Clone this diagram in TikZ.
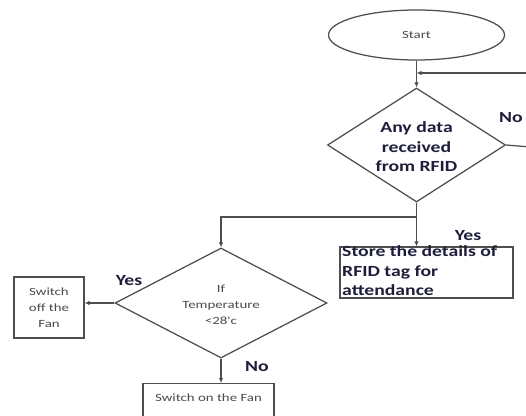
\documentclass[tikz,border=0pt]{standalone}
\usepackage{fontspec}
\usetikzlibrary{shapes.geometric,arrows.meta,calc}
\newfontfamily\plainfont[FakeStretch=1.35]{Carlito}
\newfontfamily\headfont[FakeStretch=1.27]{Carlito}
\definecolor{linegray}{HTML}{4E4E4E}
\definecolor{textgray}{HTML}{4A4A4A}
\definecolor{inkdark}{HTML}{1E1E3C}
\begin{document}
\begin{tikzpicture}[x=1pt,y=-1pt,
  flow/.style={draw=linegray, line width=1.25pt},
  arr/.style={flow, -{Latex[length=5pt,width=4.5pt]}},
  thin/.style={font=\plainfont\fontsize{11}{16}\selectfont, text=textgray, align=center},
  heavy/.style={font=\headfont\bfseries\fontsize{15.5}{19.5}\selectfont, text=inkdark},
  boxnode/.style={flow, rectangle, inner sep=0pt},
  decision/.style={flow, diamond, inner sep=0pt}]
\useasboundingbox (0,0) rectangle (526,415);
\fill[white] (0,0) rectangle (526,415);
\clip (0,0) rectangle (526,415);

% shapes
\node[flow, ellipse, inner sep=0pt, minimum width=176, minimum height=50,
      thin] (start) at (416.5,35) {Start};
\node[decision, minimum width=178, minimum height=114,
      label={[heavy, align=center, yshift=-2pt]center:Any data\\received\\from RFID}]
      (d1) at (416.5,145) {};
\node[boxnode, minimum width=173, minimum height=51] (store) at (426.5,272.5) {};
\node[heavy, align=left, anchor=north west, inner sep=0pt] (storetext)
      at (342,245.5) {Store the details of\\RFID tag for\\attendance};
\node[decision, minimum width=212, minimum height=110,
      label={[thin, yshift=-2pt]center:If\\Temperature\\<28'c}]
      (d2) at (221,303) {};
\node[boxnode, thin, minimum width=70, minimum height=61] (off) at (49,307.5)
      {Switch\\off the\\Fan};
\node[boxnode, thin, anchor=north, minimum width=131, inner ysep=4pt,
      text height=14pt, text depth=20pt] (on) at (208.5,383) {Switch on the Fan};

% branch labels
\node[heavy] (noA) at (511,118) {No};
\node[heavy, inner sep=0pt] (yesA) at (468,236) {Yes};
\node[heavy] (yesB) at (129,281) {Yes};
\node[heavy] (noB) at (257,367) {No};

% connectors
\coordinate (loopin) at (530,73);
\coordinate (loopout) at (530,147);
\coordinate (join) at (416.5,73);
\coordinate (split) at (416.5,217);
\draw[arr] (start.south) -- (d1.north);
\draw[arr] (loopin) -- (join);
\draw[flow] (d1.east) -- (loopout);
\draw[arr] (d1.south) -- (d1.south |- store.north);
\draw[arr] (split) -| (d2.north);
\draw[arr] (d2.west) -- (off.east |- d2.west);
\draw[arr] (d2.south) -- (d2.south |- on.north);
\end{tikzpicture}
\end{document}
